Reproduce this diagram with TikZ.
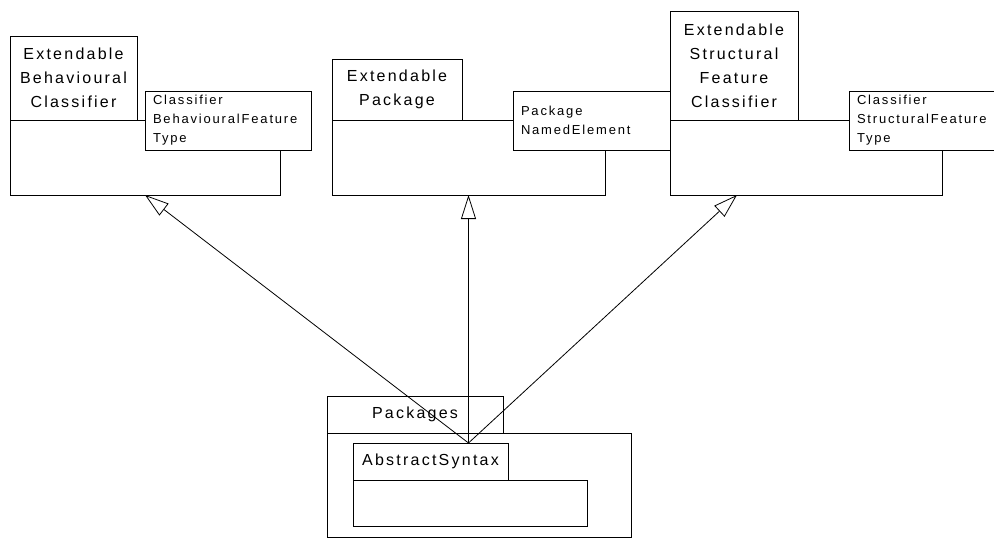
\documentclass[tikz,border=0pt]{standalone}
\usepackage{fontspec}
\setmainfont{Liberation Sans}[LetterSpace=14]
\usetikzlibrary{arrows.meta, positioning, calc}

\begin{document}
\begin{tikzpicture}[
  x=1pt, y=-1pt,
  every node/.style={draw, line width=0.8pt, fill=white, inner sep=0pt, outer sep=0pt, anchor=north west},
  tab/.style={align=center, font=\fontsize{16}{24}\selectfont},
  body/.style={},
  imports/.style={align=left, inner xsep=8pt, minimum height=59pt, font=\fontsize{13}{19}\selectfont},
  gen/.style={-{Triangle[open, length=24pt, width=15pt, fill=white]}, line width=0.8pt},
]
\clip (0,0) rectangle (994,538);

% Extendable Behavioural Classifier
\node[tab, minimum width=127pt, minimum height=84pt] (ebctab) at (10,36) {Extendable\\Behavioural\\Classifier};
\node[body, minimum width=270pt, minimum height=75pt] (ebcbody) at (10,120) {};
\node[imports, text width=150pt] (ebcimp) at (145,91) {Classifier\\BehaviouralFeature\\Type};

% Extendable Package
\node[tab, minimum width=130pt, minimum height=61pt] (eptab) at (332,59) {Extendable\\Package};
\node[body, minimum width=273pt, minimum height=75pt] (epbody) at (332,120) {};
\node[imports, text width=143pt] (epimp) at (513,91) {Package\\NamedElement};

% Extendable Structural Feature Classifier
\node[tab, minimum width=128pt, minimum height=109pt] (esfctab) at (670,11) {Extendable\\Structural\\Feature\\Classifier};
\node[body, minimum width=272pt, minimum height=75pt] (esfcbody) at (670,120) {};
\node[imports, text width=150pt] (esfcimp) at (849,91) {Classifier\\StructuralFeature\\Type};

% Packages
\node[tab, minimum width=176pt, minimum height=37pt] (pkgtab) at (327,396) {Packages};
\node[body, minimum width=304pt, minimum height=104pt] (pkgbody) at (327,433) {};
\node[tab, minimum width=155pt, minimum height=37pt] (astab) at (353,443) {AbstractSyntax};
\node[body, minimum width=234pt, minimum height=46pt] (asbody) at (353,480) {};

% generalisations
\coordinate (src) at ($(astab.north west)+(115.5,0)$);
\coordinate (esfcend) at ($(esfcbody.south west)+(67,0)$);
\draw[gen] (src) -- (ebcbody.south);
\draw[gen] (src) -- (epbody.south);
\draw[gen] (src) -- (esfcend);

\end{tikzpicture}
\end{document}
